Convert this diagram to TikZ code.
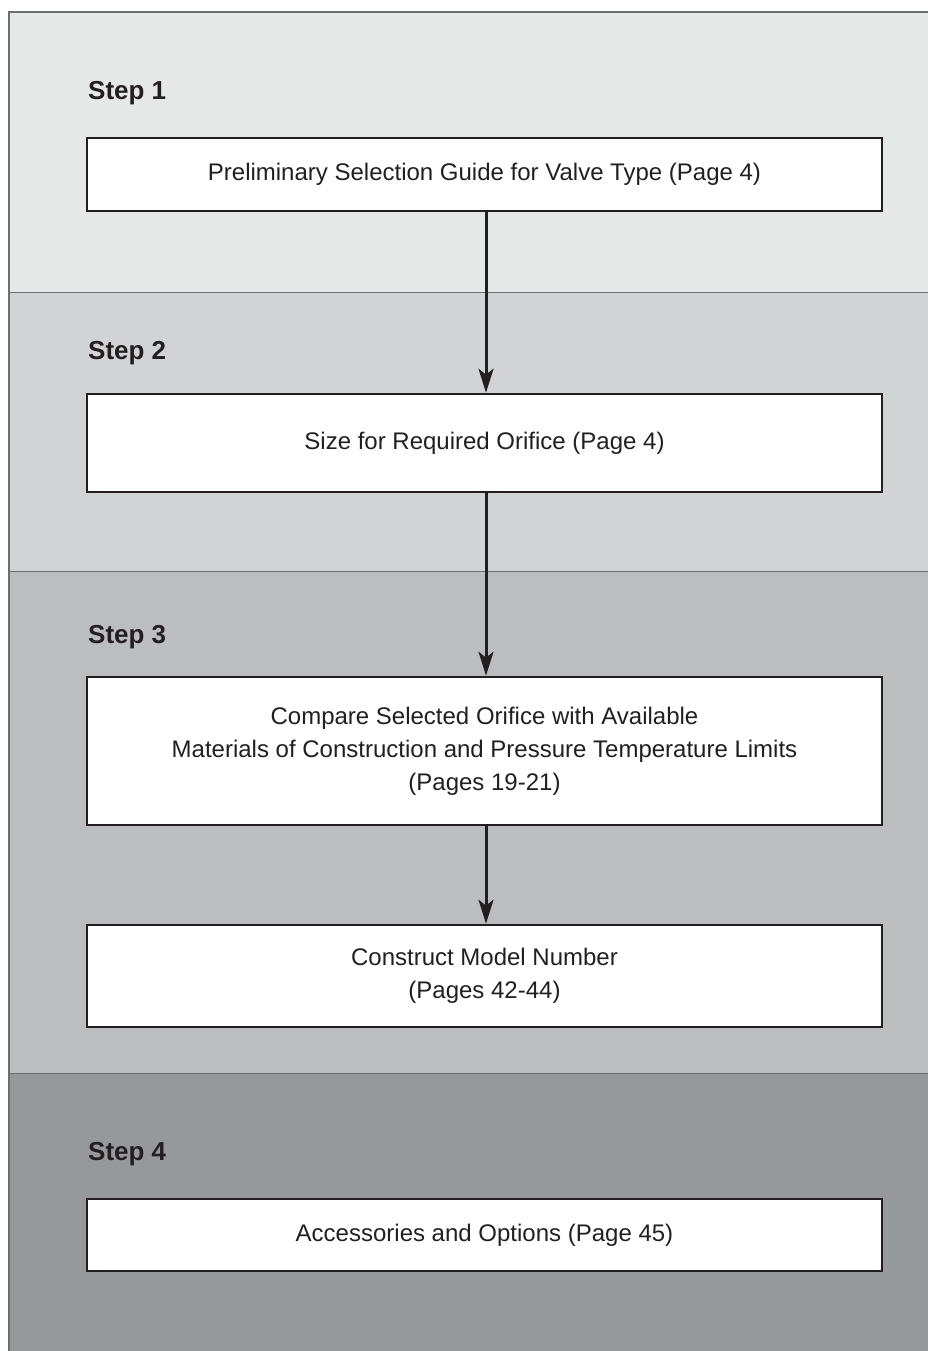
\documentclass[tikz,border=0pt]{standalone}
\usepackage{fontspec}
\setmainfont{Liberation Sans}
\usetikzlibrary{arrows.meta}

\tikzset{
    stepbox/.style={draw=ink, line width=2.6pt, fill=white, minimum width=795pt,
        align=center, inner sep=0pt, font=\fontsize{24}{33}\selectfont, text=ink},
    steplabel/.style={anchor=west, inner sep=0pt, font=\fontsize{26}{30}\selectfont\bfseries, text=ink},
    flow/.style={draw=ink, line width=3pt, -{Stealth[length=24pt,width=15pt,inset=6pt]}}
}

\begin{document}
\begin{tikzpicture}[x=1pt,y=-1pt]
    \definecolor{ink}{HTML}{231F20}
    \definecolor{rule_grey}{HTML}{6D6E70}
    \definecolor{band_one}{HTML}{E6E7E7}
    \definecolor{band_two}{HTML}{D2D3D4}
    \definecolor{band_three}{HTML}{BCBDBF}
    \definecolor{band_four}{HTML}{97989A}
    %\draw[help lines] (0,0) grid (928,1351);
    \useasboundingbox (0,0) rectangle (928,1351);
    \path[fill=white] (0,0) rectangle (928,1351);
    \path[fill=band_one] (9,12) rectangle (928,292);
    \path[fill=band_two] (9,292) rectangle (928,571);
    \path[fill=band_three] (9,571) rectangle (928,1073);
    \path[fill=band_four] (9,1073) rectangle (928,1351);
    \draw[rule_grey, line width=1.2pt] (928,12) -- (9,12) -- (9,1351);
    \draw[rule_grey, line width=1pt] (9,292) -- (928,292);
    \draw[rule_grey, line width=1pt] (9,571) -- (928,571);
    \draw[rule_grey, line width=1pt] (9,1073) -- (928,1073);

    \node[steplabel] (stepone) at (88,93) {Step 1};
    \node[steplabel] (steptwo) at (88,353) {Step 2};
    \node[steplabel] (stepthree) at (88,637) {Step 3};
    \node[steplabel] (stepfour) at (88,1154) {Step 4};

    \node[stepbox, minimum height=73pt] (guide) at (484.5,174.5)
        {Preliminary Selection Guide for Valve Type (Page 4)};
    \node[stepbox, minimum height=98pt] (size) at (484.5,443)
        {Size for Required Orifice (Page 4)};
    \node[stepbox, minimum height=148pt] (compare) at (484.5,751)
        {Compare Selected Orifice with Available\\
         Materials of Construction and Pressure Temperature Limits\\
         (Pages 19-21)};
    \node[stepbox, minimum height=102pt] (model) at (484.5,976)
        {Construct Model Number\\ (Pages 42-44)};
    \node[stepbox, minimum height=72pt] (extras) at (484.5,1235)
        {Accessories and Options (Page 45)};

    \draw[flow] ([xshift=1.5pt]guide.south) -- ([xshift=1.5pt]size.north);
    \draw[flow] ([xshift=1.5pt]size.south) -- ([xshift=1.5pt]compare.north);
    \draw[flow] ([xshift=1.5pt]compare.south) -- ([xshift=1.5pt]model.north);
\end{tikzpicture}
\end{document}
